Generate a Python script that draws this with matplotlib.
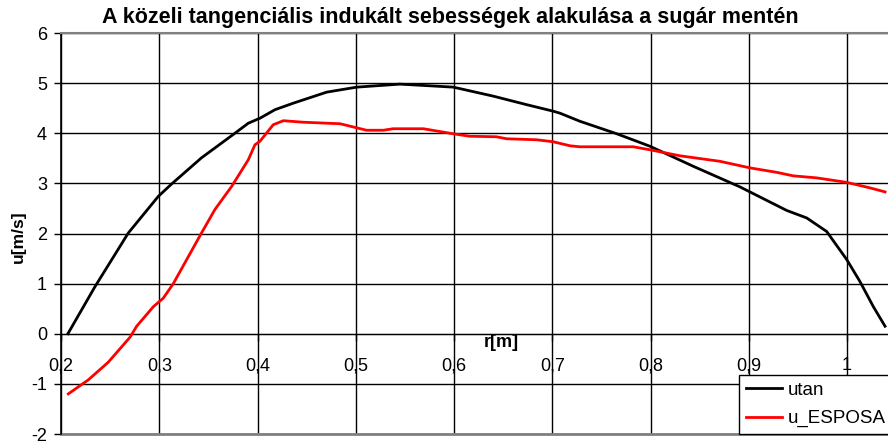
import matplotlib
matplotlib.use("Agg")
import matplotlib.pyplot as plt
from matplotlib.ticker import FuncFormatter, MultipleLocator

plt.rcParams['font.family'] = ['Liberation Sans', 'DejaVu Sans']

# Data
r_utan = [0.207, 0.2346, 0.2685, 0.299, 0.3127, 0.343, 0.377, 0.3906, 0.4025, 0.4178,
          0.4364, 0.4704, 0.501, 0.545, 0.5993, 0.640, 0.674, 0.701, 0.7079, 0.728,
          0.7656, 0.7995, 0.8436, 0.891, 0.9386, 0.959, 0.9793, 0.9997, 1.0132, 1.0268, 1.0387]
u_utan = [0.0, 0.94, 2.01, 2.74, 2.99, 3.51, 4.0, 4.2, 4.30, 4.47,
          4.60, 4.82, 4.92, 4.98, 4.92, 4.74, 4.57, 4.44, 4.40, 4.24,
          3.99, 3.74, 3.34, 2.93, 2.46, 2.31, 2.04, 1.48, 1.04, 0.54, 0.15]

r_esposa = [0.2074, 0.2278, 0.248, 0.2702, 0.277, 0.294, 0.3041, 0.3143, 0.343, 0.3567,
            0.3737, 0.3906, 0.3974, 0.4025, 0.416, 0.4263, 0.4466, 0.484, 0.511, 0.528,
            0.538, 0.5688, 0.599, 0.616, 0.643, 0.6536, 0.684, 0.701, 0.718, 0.728,
            0.7825, 0.7995, 0.830, 0.8707, 0.901, 0.9284, 0.9453, 0.969, 0.9997, 1.0234, 1.0387]
u_esposa = [-1.20, -0.92, -0.57, -0.07, 0.15, 0.54, 0.71, 1.0, 2.01, 2.48,
            2.94, 3.47, 3.77, 3.84, 4.17, 4.25, 4.22, 4.19, 4.06, 4.06,
            4.09, 4.09, 3.99, 3.94, 3.93, 3.89, 3.87, 3.83, 3.75, 3.73,
            3.73, 3.67, 3.55, 3.44, 3.31, 3.22, 3.15, 3.11, 3.02, 2.91, 2.83]

title = "A közeli tangenciális indukált sebességek alakulása a sugár mentén"

W, H = 888, 444
fig = plt.figure(figsize=(W / 100, H / 100), dpi=100)
ax = fig.add_axes([61 / W, (H - 434) / H, (888 - 61) / W, (434 - 33) / H])

ax.plot(r_utan, u_utan, color='black', lw=2.0, label='utan', zorder=3)
ax.plot(r_esposa, u_esposa, color='#ff0000', lw=2.0, label='u_ESPOSA', zorder=3)

ax.set_xlim(0.2, 1.0417)
ax.set_ylim(-2, 6)
ax.xaxis.set_major_locator(MultipleLocator(0.1))
ax.yaxis.set_major_locator(MultipleLocator(1))

def fmt(v, pos):
    s = ('%.1f' % v).rstrip('0').rstrip('.')
    return s.replace('.', ',')

ax.xaxis.set_major_formatter(FuncFormatter(fmt))
ax.yaxis.set_major_formatter(FuncFormatter(lambda v, p: '%d' % round(v)))

ax.grid(True, color='black', lw=1.0, zorder=1)
ax.set_axisbelow(True)

ax.spines['bottom'].set_position(('data', 0))
ax.spines['bottom'].set_color('black')
ax.spines['left'].set_color('black')
ax.spines['left'].set_linewidth(1.2)
ax.spines['top'].set_color('#808080')
ax.spines['top'].set_linewidth(1.5)
ax.spines['right'].set_visible(False)

ax.tick_params(axis='y', direction='out', length=5, width=1, color='black',
               labelsize=13, pad=5)
ax.tick_params(axis='x', direction='out', length=5, width=1, color='black',
               labelsize=13, pad=12)

# gray bottom border of plot area at y=-2
ax.axhline(-2, color='#808080', lw=2.0, zorder=2, clip_on=False)

ax.text(0.532, 0.227, 'r[m]', transform=ax.transAxes, ha='center', va='center',
        fontsize=13, fontweight='bold')
fig.text(18 / W, (H - 237) / H, 'u[m/s]', rotation=90, ha='center', va='center',
         fontsize=12.5, fontweight='bold')
fig.text(450 / W, (H - 18) / H, title, ha='center', va='center',
         fontsize=15.5, fontweight='bold')

leg = ax.legend(loc='lower left', bbox_to_anchor=((739 - 61) / 827, 0.0),
                frameon=True, fancybox=False, framealpha=1, edgecolor='black',
                fontsize=13.5, handlelength=1.95, handletextpad=0.3,
                borderpad=0.35, labelspacing=0.6, borderaxespad=0)
leg.get_frame().set_linewidth(1.0)
leg.set_zorder(5)

fig.savefig('out.png', dpi=100)
